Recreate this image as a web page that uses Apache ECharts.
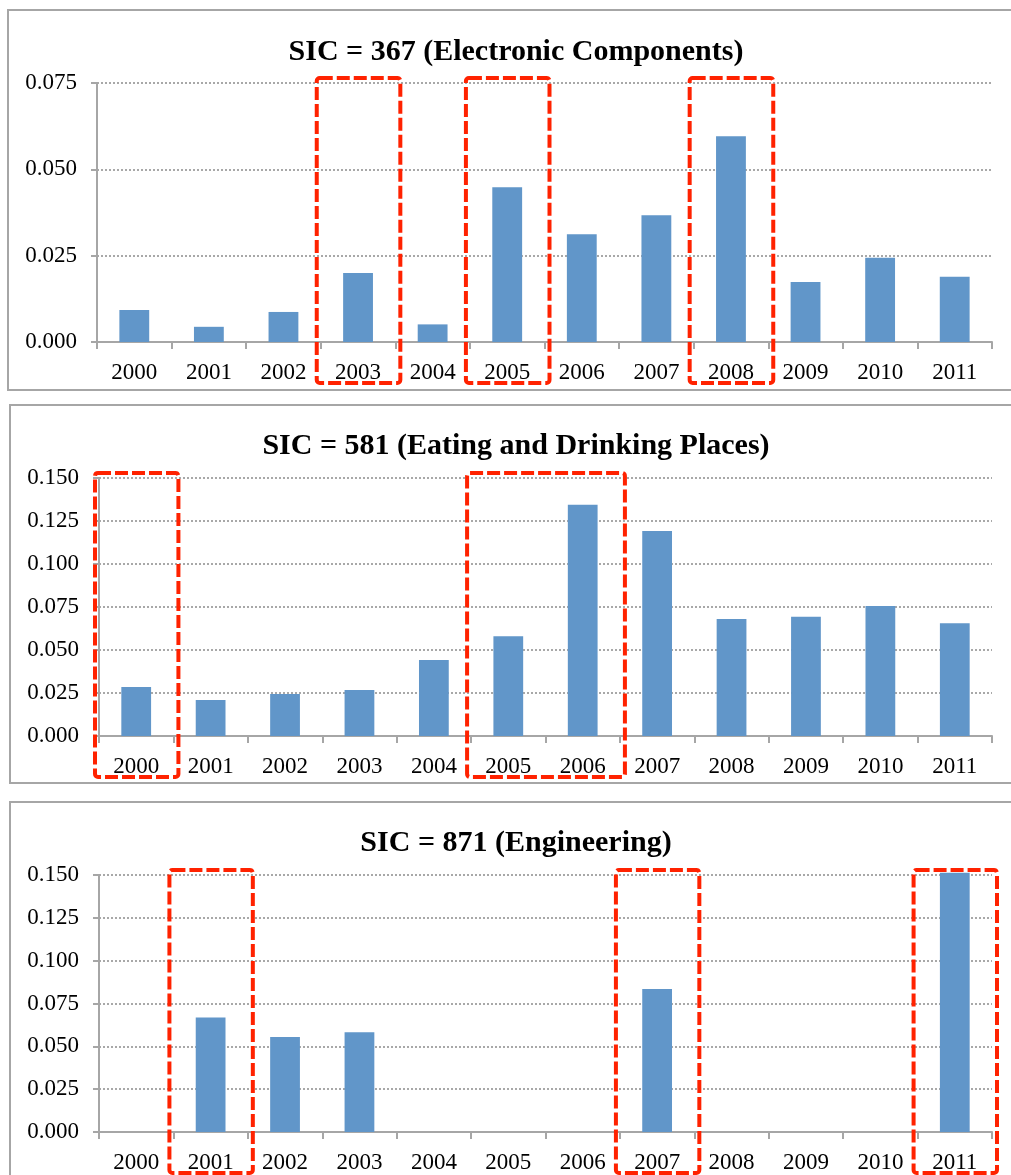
<!DOCTYPE html>
<html>
<head>
<meta charset="utf-8">
<script src="https://cdn.jsdelivr.net/npm/echarts@6/dist/echarts.min.js"></script>
<style>
  html, body { margin: 0; padding: 0; background: #fff; }
  #main { width: 1011px; height: 1175px; }
</style>
</head>
<body>
<div id="main"></div>
<script>
// data
var years = ['2000','2001','2002','2003','2004','2005','2006','2007','2008','2009','2010','2011'];
var titles = ['SIC = 367 (Electronic Components)', 'SIC = 581 (Eating and Drinking Places)', 'SIC = 871 (Engineering)'];
var sic367 = [0.0093, 0.0044, 0.0087, 0.0200, 0.0051, 0.0448, 0.0312, 0.0367, 0.0596, 0.0174, 0.0244, 0.0189];
var sic581 = [0.0285, 0.0209, 0.0244, 0.0267, 0.0442, 0.0580, 0.1345, 0.1192, 0.0680, 0.0694, 0.0756, 0.0655];
var sic871 = [0, 0.0669, 0.0555, 0.0582, 0, 0, 0, 0.0835, 0, 0, 0, 0.1513];
var yMax = [0.075, 0.150, 0.150];
// highlighted year ranges (category index from..to) for each panel
var marks367 = [[3, 3], [5, 5], [8, 8]];
var marks581 = [[0, 0], [5, 6]];
var marks871 = [[1, 1], [7, 7], [11, 11]];

var seriesData = [sic367, sic581, sic871];
var marks = [marks367, marks581, marks871];

var font = 'Liberation Serif';
var grids = [
  { left: 97, top: 83, width: 895, height: 259 },
  { left: 99, top: 478, width: 893, height: 258 },
  { left: 99, top: 875, width: 893, height: 257 }
];
var titleTops = [37, 431, 828];
var panels = [
  { x: 8, y: 10, h: 380 },
  { x: 10, y: 405, h: 378 },
  { x: 10, y: 802, h: 420 }
];

var chart = echarts.init(document.getElementById('main'));

var option = {
  backgroundColor: '#fff',
  animation: false,
  title: [], grid: [], xAxis: [], yAxis: [], series: [],
  graphic: panels.map(function (p) {
    return { type: 'rect', z: -1, shape: { x: p.x, y: p.y, width: 1040, height: p.h },
             style: { fill: 'none', stroke: '#a6a6a6', lineWidth: 2 } };
  })
};

for (var i = 0; i < 3; i++) {
  option.title.push({
    text: titles[i], left: 516, top: titleTops[i], textAlign: 'center', padding: 0,
    textStyle: { fontFamily: font, fontWeight: 'bold', fontSize: 30, color: '#000' }
  });
  option.grid.push(grids[i]);
  option.xAxis.push({
    type: 'category', gridIndex: i, data: years,
    axisLine: { lineStyle: { color: '#a6a6a6', width: 2 } },
    axisTick: { show: true, length: 7, lineStyle: { color: '#a6a6a6', width: 2 } },
    axisLabel: { fontFamily: font, fontSize: 23, color: '#000', margin: 19, interval: 0 }
  });
  option.yAxis.push({
    type: 'value', gridIndex: i, min: 0, max: yMax[i], interval: 0.025,
    axisLine: { show: true, lineStyle: { color: '#a6a6a6', width: 2 } },
    axisTick: { show: true, length: 6, lineStyle: { color: '#a6a6a6', width: 2 } },
    axisLabel: { fontFamily: font, fontSize: 23, color: '#000', margin: 20,
                 formatter: function (v) { return v.toFixed(3); } },
    splitLine: { lineStyle: { color: '#8c8c8c', width: 1.5, type: [2, 2] } }
  });
  option.series.push({
    type: 'bar', xAxisIndex: i, yAxisIndex: i, data: seriesData[i],
    barWidth: '40%', clip: false,
    itemStyle: { color: '#6196c9' }
  });
}

chart.setOption(option);

// red dashed boxes around highlighted years, placed from the axis scales
var boxes = [];
for (var g = 0; g < 3; g++) {
  var c0 = chart.convertToPixel({ gridIndex: g }, [0, 0]);
  var c1 = chart.convertToPixel({ gridIndex: g }, [1, yMax[g]]);
  var band = c1[0] - c0[0];
  marks[g].forEach(function (m) {
    var a = chart.convertToPixel({ gridIndex: g }, [m[0], 0]);
    var b = chart.convertToPixel({ gridIndex: g }, [m[1], 0]);
    var x0 = a[0] - band / 2 - 4, x1 = b[0] + band / 2 + 5;
    var y0 = c1[1] - 5, y1 = c0[1] + 41;
    boxes.push({
      type: 'rect', z: 100,
      shape: { x: x0, y: y0, width: x1 - x0, height: y1 - y0, r: 3 },
      style: { fill: 'none', stroke: '#ff2200', lineWidth: 4, lineDash: [13, 4] }
    });
  });
}
chart.setOption({ graphic: option.graphic.concat(boxes) });
</script>
</body>
</html>
